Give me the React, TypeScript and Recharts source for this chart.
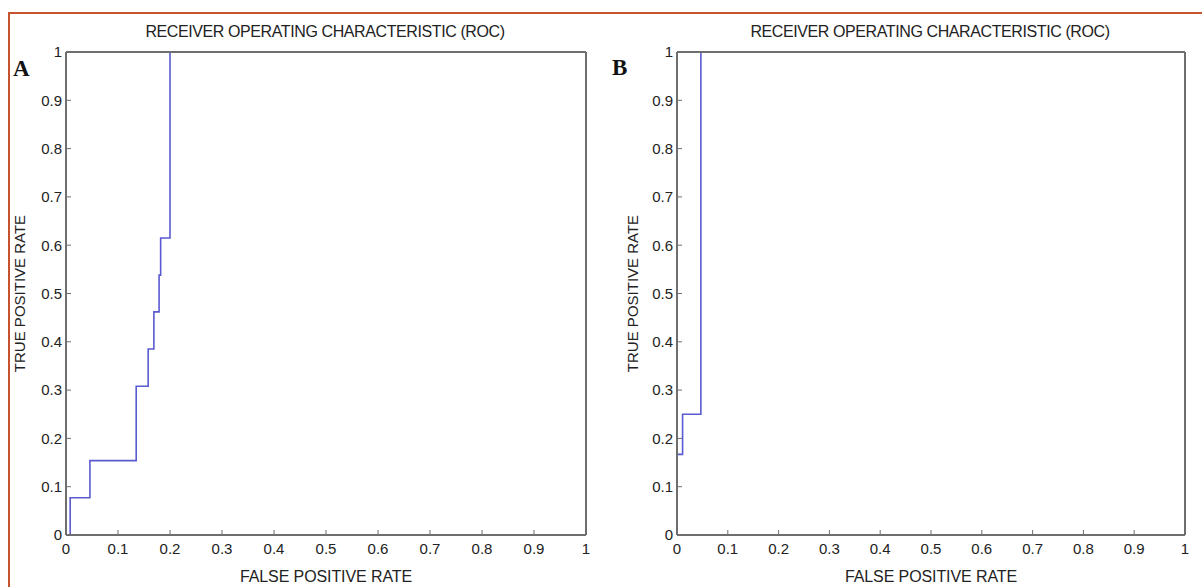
import React from 'react';
import { LineChart, Line, XAxis, YAxis, Label } from 'recharts';

// Panel A ROC curve (false positive rate, true positive rate)
const fprA = [0, 0.008, 0.046, 0.135, 0.158, 0.169, 0.179, 0.182, 0.2, 1];
const tprA = [0, 0.077, 0.154, 0.308, 0.385, 0.462, 0.538, 0.615, 1, 1];

// Panel B ROC curve
const fprB = [0, 0, 0.011, 0.047, 1];
const tprB = [0, 0.167, 0.25, 1, 1];

const axisTicks = [0, 0.1, 0.2, 0.3, 0.4, 0.5, 0.6, 0.7, 0.8, 0.9, 1];
const titleText = 'RECEIVER OPERATING CHARACTERISTIC (ROC)';
const xLabelText = 'FALSE POSITIVE RATE';
const yLabelText = 'TRUE POSITIVE RATE';
const panelLetters = ['A', 'B'];

const AXIS = '#6e6e6e';
const LINE = '#5a5ad0';
const TEXT = '#222222';
const FONT = 'Arial, "Liberation Sans", sans-serif';

type RocProps = {
  fpr: number[];
  tpr: number[];
  width: number;
  yLabelOffset: number;
};

function RocChart({ fpr, tpr, width, yLabelOffset }: RocProps) {
  const data = fpr.map((f, i) => ({ fpr: f, tpr: tpr[i] }));
  const tickStyle = { fontSize: 15, fill: TEXT, fontFamily: FONT };
  return (
    <LineChart
      width={width}
      height={587}
      data={data}
      margin={{ top: 50, right: 12, bottom: 0, left: 6 }}
    >
      <XAxis
        dataKey="fpr"
        type="number"
        domain={[0, 1]}
        ticks={axisTicks}
        interval={0}
        height={52}
        stroke={AXIS}
        strokeWidth={2}
        tickSize={-5}
        tickMargin={13}
        tick={tickStyle}
        tickLine={{ stroke: AXIS, strokeWidth: 1 }}
      >
        <Label
          value={xLabelText}
          position="insideBottom"
          offset={5}
          style={{ fontSize: 16, fill: TEXT, fontFamily: FONT, letterSpacing: '-0.1px' }}
        />
      </XAxis>
      <XAxis
        xAxisId="top"
        orientation="top"
        type="number"
        domain={[0, 1]}
        ticks={axisTicks}
        interval={0}
        height={2}
        stroke={AXIS}
        strokeWidth={2}
        tickSize={-5}
        tick={false}
        tickLine={{ stroke: AXIS, strokeWidth: 1 }}
      />
      <YAxis
        type="number"
        domain={[0, 1]}
        ticks={axisTicks}
        interval={0}
        width={60}
        stroke={AXIS}
        strokeWidth={2}
        tickSize={-5}
        tickMargin={9}
        tick={tickStyle}
        tickLine={{ stroke: AXIS, strokeWidth: 1 }}
      >
        <Label
          value={yLabelText}
          angle={-90}
          position="insideLeft"
          offset={yLabelOffset}
          style={{ fontSize: 15, fill: TEXT, fontFamily: FONT, textAnchor: 'middle' }}
        />
      </YAxis>
      <YAxis
        yAxisId="right"
        orientation="right"
        type="number"
        domain={[0, 1]}
        ticks={axisTicks}
        interval={0}
        width={2}
        stroke={AXIS}
        strokeWidth={2}
        tickSize={-5}
        tick={false}
        tickLine={{ stroke: AXIS, strokeWidth: 1 }}
      />
      <Line
        type="stepAfter"
        dataKey="tpr"
        stroke={LINE}
        strokeWidth={1.6}
        dot={false}
        activeDot={false}
        isAnimationActive={false}
      />
    </LineChart>
  );
}

const titleStyle: React.CSSProperties = {
  position: 'absolute',
  top: 23,
  width: 500,
  textAlign: 'center',
  fontFamily: FONT,
  fontSize: 16,
  letterSpacing: '-0.4px',
  color: TEXT,
  whiteSpace: 'nowrap',
};

const letterStyle: React.CSSProperties = {
  position: 'absolute',
  fontFamily: '"Liberation Serif", "DejaVu Serif", serif',
  fontWeight: 'bold',
  fontSize: 23,
  color: '#111',
  lineHeight: '23px',
};

export default function App() {
  return (
    <div
      style={{
        position: 'absolute',
        left: 0,
        top: 0,
        width: 1202,
        height: 587,
        background: '#ffffff',
        overflow: 'hidden',
      }}
    >
      <div style={{ position: 'absolute', left: 8, top: 12, width: 1194, height: 2, background: '#c4532e' }} />
      <div style={{ position: 'absolute', left: 8, top: 12, width: 2, height: 575, background: '#c4532e' }} />
      <div style={{ position: 'absolute', left: 0, top: 0 }}>
        <RocChart fpr={fprA} tpr={tprA} width={600} yLabelOffset={14} />
      </div>
      <div style={{ position: 'absolute', left: 611, top: 0 }}>
        <RocChart fpr={fprB} tpr={tprB} width={588} yLabelOffset={16} />
      </div>
      <div style={{ ...titleStyle, left: 325 - 250 }}>{titleText}</div>
      <div style={{ ...titleStyle, left: 930 - 250 }}>{titleText}</div>
      <div style={{ ...letterStyle, left: 13, top: 57 }}>{panelLetters[0]}</div>
      <div style={{ ...letterStyle, left: 612, top: 56 }}>{panelLetters[1]}</div>
    </div>
  );
}
